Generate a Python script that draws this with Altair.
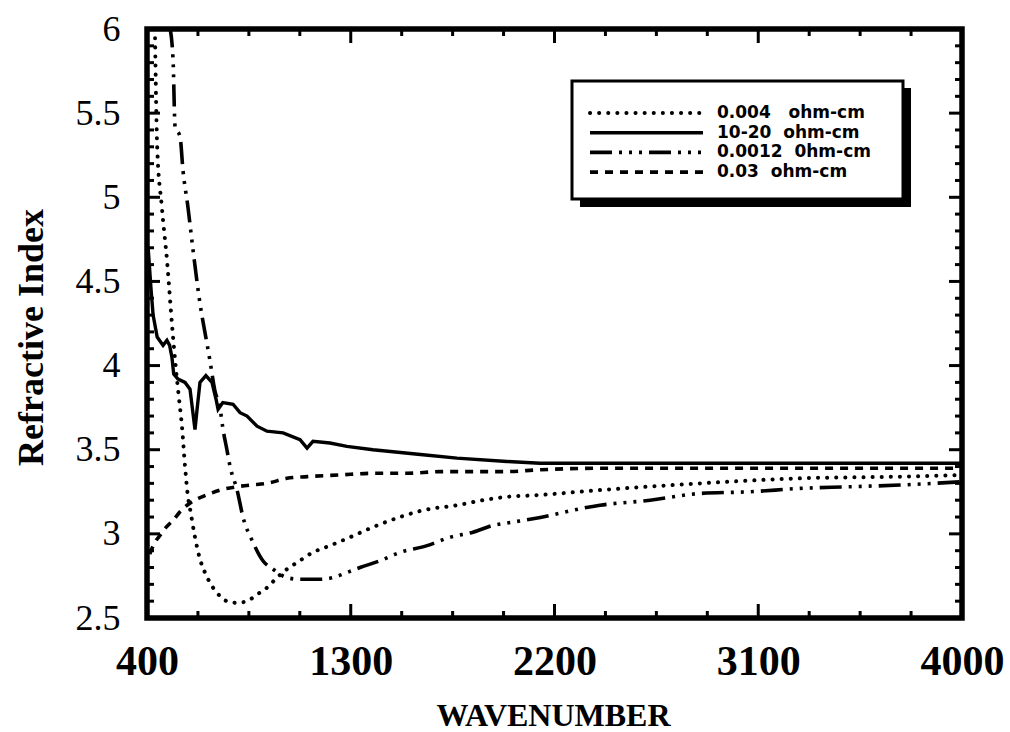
import altair as alt
import pandas as pd

# Refractive index of silicon wafers versus wavenumber (cm-1), one curve per resistivity
wn_0004 = [435, 445, 465, 490, 510, 525, 540, 555, 568, 581, 590, 612, 634, 656, 678, 709, 753, 798, 842, 886,
           930, 974, 1018, 1063, 1133, 1208, 1297, 1398, 1518, 1619, 1769, 1884, 1990, 2123, 2401, 2843, 3284, 3726, 4000]
n_0004 = [6.00, 5.30, 4.95, 4.60, 4.25, 4.02, 3.82, 3.63, 3.40, 3.22, 3.15, 2.98, 2.85, 2.77, 2.71, 2.65, 2.60, 2.59, 2.60, 2.64,
          2.68, 2.74, 2.79, 2.83, 2.89, 2.93, 2.98, 3.04, 3.10, 3.14, 3.17, 3.20, 3.22, 3.23, 3.26, 3.30, 3.33, 3.34, 3.35]

wn_1020 = [405, 418, 427, 445, 471, 488, 500, 510, 518, 537, 568, 590, 600, 612, 622, 634, 660, 687, 705, 714,
           735, 780, 811, 842, 886, 930, 1001, 1076, 1107, 1133, 1208, 1283, 1398, 1619, 1769, 1990, 2136, 2600, 3200, 4000]
n_1020 = [4.70, 4.45, 4.30, 4.17, 4.12, 4.15, 4.12, 4.05, 3.95, 3.92, 3.90, 3.86, 3.75, 3.62, 3.75, 3.90, 3.94, 3.90, 3.80, 3.74,
          3.78, 3.77, 3.72, 3.70, 3.64, 3.61, 3.60, 3.56, 3.51, 3.55, 3.54, 3.52, 3.50, 3.47, 3.45, 3.43, 3.42, 3.42, 3.42, 3.42]

wn_00012 = [500, 515, 524, 546, 559, 581, 603, 634, 665, 678, 700, 722, 736, 753, 767, 798, 824, 868, 912, 957,
            1018, 1076, 1164, 1222, 1283, 1341, 1429, 1518, 1637, 1738, 1840, 1928, 2017, 2105, 2401, 2622, 2843, 3063, 3284, 3505,
            3726, 4000]
n_00012 = [6.02, 5.82, 5.42, 5.36, 5.16, 4.94, 4.69, 4.37, 4.13, 4.03, 3.85, 3.75, 3.62, 3.50, 3.40, 3.26, 3.10, 2.95, 2.84, 2.79,
           2.74, 2.73, 2.73, 2.74, 2.77, 2.80, 2.84, 2.89, 2.93, 2.98, 3.01, 3.05, 3.07, 3.09, 3.17, 3.20, 3.24, 3.25, 3.27, 3.28,
           3.29, 3.31]

wn_003 = [412, 435, 457, 485, 515, 545, 577, 610, 643, 680, 722, 798, 855, 930, 1018, 1107, 1252, 1398, 1548, 1694,
          1840, 1990, 2123, 2401, 2800, 3300, 4000]
n_003 = [2.88, 2.95, 2.99, 3.04, 3.08, 3.13, 3.17, 3.20, 3.22, 3.24, 3.26, 3.28, 3.29, 3.30, 3.33, 3.34, 3.35, 3.36, 3.36, 3.37,
         3.37, 3.37, 3.38, 3.39, 3.39, 3.39, 3.39]

series_names = ["0.004", "10-20", "0.0012", "0.03"]
legend_labels = ["0.004\u00a0\u00a0\u00a0ohm-cm", "10-20\u00a0\u00a0ohm-cm",
                 "0.0012\u00a0\u00a00hm-cm", "0.03\u00a0\u00a0ohm-cm"]

x_label_values = [400, 1300, 2200, 3100, 4000]
y_label_values = [2.5, 3, 3.5, 4, 4.5, 5, 5.5, 6]
x_major_ticks = [1300, 2200, 3100]
x_minor_ticks = [625, 850, 1075, 1525, 1750, 1975, 2425, 2650, 2875, 3325, 3550, 3775]
y_major_ticks = [3.0, 3.5, 4.0, 4.5, 5.0, 5.5]
y_minor_ticks = [round(2.5 + 0.1 * k, 1) for k in range(1, 35) if k % 5]

# plot-area size in pixels
W, H = 815, 589

line_styles = {
    "0.004": dict(strokeDash=[0.1, 9], strokeCap="round", strokeWidth=4),
    "10-20": dict(strokeWidth=3.4),
    "0.0012": dict(strokeDash=[22, 7, 3, 7, 3, 7, 3, 7], strokeWidth=3.6),
    "0.03": dict(strokeDash=[8, 7], strokeWidth=3.6),
}
interp = {"0.004": "monotone", "10-20": "linear", "0.0012": "monotone", "0.03": "monotone"}

x_scale = alt.Scale(domain=[400, 4000], nice=False, zero=False)
y_scale = alt.Scale(domain=[2.5, 6], nice=False, zero=False)

x_axis = alt.Axis(
    values=x_label_values, format="d", ticks=False, domain=False, grid=False,
    labelFont="Liberation Serif", labelFontWeight="bold", labelFontSize=42, labelColor="black",
    labelPadding=23, labelFlush=False, labelOverlap=False, labelBound=False,
    title="WAVENUMBER", titleFont="Liberation Serif", titleFontWeight="bold", titleFontSize=32,
    titleColor="black", titleX=406, titleY=107, titleAlign="center", titleBaseline="alphabetic",
)
y_axis = alt.Axis(
    values=y_label_values, format="~g", ticks=False, domain=False, grid=False,
    labelFont="Liberation Serif", labelFontWeight="normal", labelFontSize=36, labelColor="black",
    labelPadding=27, labelFlush=False, labelOverlap=False, labelBound=False,
    title="Refractive Index", titleFont="Liberation Serif", titleFontWeight="bold", titleFontSize=36,
    titleColor="black", titleAngle=-90, titleX=-116, titleY=308, titleAlign="center", titleBaseline="middle",
)

curve_data = {
    "0.004": (wn_0004, n_0004),
    "10-20": (wn_1020, n_1020),
    "0.0012": (wn_00012, n_00012),
    "0.03": (wn_003, n_003),
}

X = lambda field: alt.X(field, scale=x_scale, axis=x_axis)
Y = lambda field: alt.Y(field, scale=y_scale, axis=y_axis)

layers = []
for name in series_names:
    wn, n = curve_data[name]
    df = pd.DataFrame({"wavenumber": wn, "index": n})
    layers.append(
        alt.Chart(df).mark_line(color="black", clip=True, interpolate=interp[name], **line_styles[name]).encode(
            x=X("wavenumber:Q"), y=Y("index:Q"),
        )
    )

# inward tick marks on all four sides of the frame
def x_ticks(values, length):
    df = pd.DataFrame({"wavenumber": values})
    base = alt.Chart(df).mark_rule(color="black", strokeWidth=3)
    bottom = base.encode(x=X("wavenumber:Q"), y=alt.value(H), y2=alt.value(H - length))
    top = base.encode(x=X("wavenumber:Q"), y=alt.value(0), y2=alt.value(length))
    return [bottom, top]


def y_ticks(values, length):
    df = pd.DataFrame({"index": values})
    base = alt.Chart(df).mark_rule(color="black", strokeWidth=3)
    left = base.encode(y=Y("index:Q"), x=alt.value(0), x2=alt.value(length))
    right = base.encode(y=Y("index:Q"), x=alt.value(W), x2=alt.value(W - length))
    return [left, right]


layers += x_ticks(x_minor_ticks, 7) + x_ticks(x_major_ticks, 14)
layers += y_ticks(y_minor_ticks, 7) + y_ticks(y_major_ticks, 13)

one = pd.DataFrame({"a": [0]})
frame = alt.Chart(one).mark_rect(filled=False, stroke="black", strokeWidth=5.5).encode(
    x=alt.value(0), x2=alt.value(W), y=alt.value(0), y2=alt.value(H)
)
layers.append(frame)

# legend box with drop shadow
LX0, LY0, LX1, LY1 = 425, 52, 756, 170
shadow = alt.Chart(one).mark_rect(color="black").encode(
    x=alt.value(LX0 + 8), x2=alt.value(LX1 + 8), y=alt.value(LY0 + 7), y2=alt.value(LY1 + 8)
)
box = alt.Chart(one).mark_rect(fill="white", stroke="black", strokeWidth=3).encode(
    x=alt.value(LX0), x2=alt.value(LX1), y=alt.value(LY0), y2=alt.value(LY1)
)
layers += [shadow, box]

ROW0, ROW_STEP = 84, 19.7
for i, (name, label) in enumerate(zip(series_names, legend_labels)):
    ry = ROW0 + i * ROW_STEP
    style = dict(line_styles[name])
    layers.append(
        alt.Chart(one).mark_rule(color="black", **style).encode(
            x=alt.value(443), x2=alt.value(556), y=alt.value(ry)
        )
    )
    layers.append(
        alt.Chart(pd.DataFrame({"label": [label]})).mark_text(
            align="left", baseline="middle", font="DejaVu Sans", fontWeight="bold", fontSize=17, color="black"
        ).encode(x=alt.value(570), y=alt.value(ry), text="label:N")
    )

chart = alt.layer(*layers).properties(
    width=W, height=H,
    autosize=alt.AutoSizeParams(type="none"),
    padding={"left": 147, "top": 29, "right": 48, "bottom": 114},
).configure_view(stroke=None).configure(background="white")

chart.save("out.html", embed_options={"renderer": "svg", "actions": False})
